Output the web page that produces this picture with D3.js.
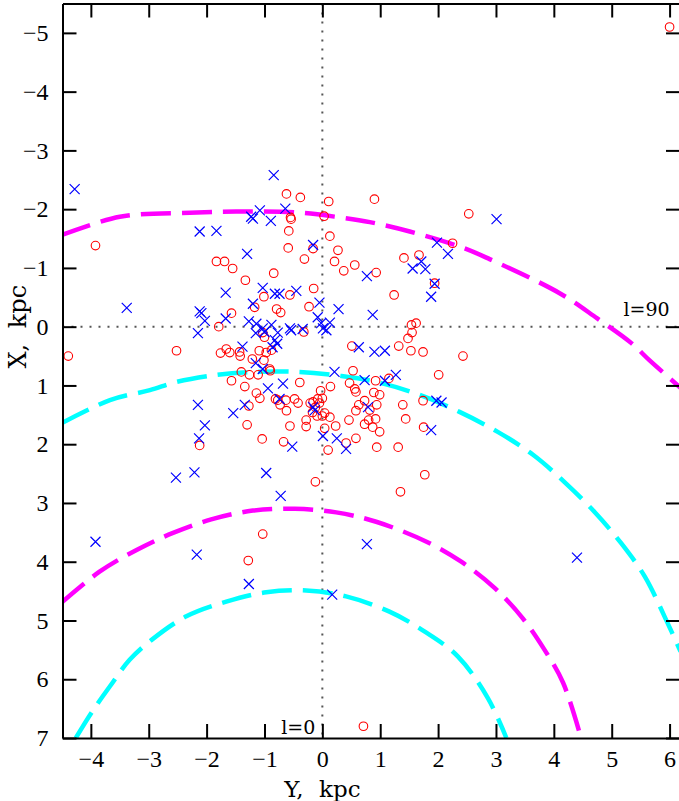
<!DOCTYPE html>
<html>
<head>
<meta charset="utf-8">
<script src="https://cdn.jsdelivr.net/npm/d3@7"></script>
<style>
  body { margin: 0; background: #fff; }
</style>
</head>
<body>
<svg id="chart" width="679" height="801"></svg>
<script>
// axis ticks (Y and X in kpc)
const yTicksBottom = d3.range(-4, 7);
const xTicksLeft = d3.range(-5, 8);

// red circles [Y, X]
const circles = [
  [-4.39, 0.50], [-3.92, -1.38], [6.00, -5.10], [-0.62, -2.26], [-0.38, -2.20], [0.11, -2.13],
  [-0.55, -1.86], [-0.54, -1.83], [0.03, -1.88], [-0.58, -1.63], [0.13, -1.54], [-0.59, -1.34],
  [-0.16, -1.33], [-0.31, -1.15], [0.27, -1.30], [0.21, -1.11], [0.37, -0.95], [-1.83, -1.11],
  [-1.69, -1.11], [-1.55, -0.99], [-0.84, -0.91], [-1.33, -0.79], [-0.15, -0.65], [-0.56, -0.54],
  [-1.01, -0.51], [-0.23, -0.34], [-1.17, -0.33], [-0.79, -0.30], [-0.72, -0.24], [-1.57, -0.23],
  [-1.79, 0.00], [-0.32, 0.09], [0.51, 0.33], [-2.52, 0.41], [-1.76, 0.45], [-1.66, 0.38],
  [-1.60, 0.44], [-1.43, 0.43], [-1.42, 0.50], [-1.21, 0.55], [-1.09, 0.41], [-0.97, 0.44],
  [-0.88, 0.40], [-1.03, 0.10], [-1.00, 0.18], [-1.01, 0.57], [0.90, -2.17], [2.53, -1.92],
  [0.56, -1.05], [0.93, -0.92], [1.41, -1.17], [1.67, -1.22], [2.25, -1.42], [1.94, -0.74],
  [1.24, -0.54], [1.54, -0.03], [1.62, -0.06], [1.55, 0.10], [1.48, 0.20], [1.32, 0.33],
  [1.53, 0.41], [1.74, 0.43], [2.43, 0.50], [-0.91, 0.72], [-0.90, 0.75], [-1.40, 0.77],
  [-1.26, 0.82], [-1.11, 0.82], [-1.57, 0.92], [-1.34, 1.02], [-0.39, 0.95], [0.14, 1.02],
  [-1.14, 1.13], [-1.08, 1.22], [-0.81, 1.23], [-0.77, 1.25], [-0.73, 1.33], [-0.63, 1.25],
  [-0.62, 1.43], [-0.48, 1.23], [-0.42, 1.30], [-1.27, 1.35], [-0.21, 1.30], [-0.16, 1.28],
  [-0.12, 1.37], [-0.08, 1.23], [-0.03, 1.09], [-0.17, 1.46], [-0.09, 1.52], [0.00, 1.52],
  [0.04, 1.47], [0.13, 1.54], [-0.28, 1.59], [-0.28, 1.70], [0.04, 1.73], [0.23, 1.69],
  [0.46, 1.59], [-0.56, 1.69], [-1.30, 1.67], [-1.04, 1.91], [-0.67, 1.96], [-2.12, 2.02],
  [0.10, 2.10], [0.41, 1.98], [-0.12, 2.64], [0.53, 0.75], [0.47, 0.96], [0.56, 1.06],
  [0.58, 1.11], [0.92, 0.92], [1.15, 0.88], [0.89, 1.12], [0.99, 1.16], [0.63, 1.33],
  [0.73, 1.26], [0.82, 1.42], [0.58, 1.43], [0.94, 1.33], [0.73, 1.66], [0.80, 1.59],
  [0.92, 1.57], [0.87, 1.71], [0.99, 1.79], [0.58, 1.90], [0.94, 2.05], [1.31, 2.05],
  [1.39, 1.33], [1.44, 1.57], [1.74, 1.26], [1.75, 1.71], [2.01, 0.82], [1.77, 2.52],
  [1.35, 2.81], [-1.03, 3.53], [-1.28, 3.98], [0.71, 6.80], [0.00, 1.22], [-0.05, 1.30]
];

// blue crosses [Y, X]
const crosses = [
  [-4.28, -2.34], [-3.38, -0.32], [-3.92, 3.66], [-2.53, 2.57], [-2.21, 2.48], [-2.17, 3.88],
  [-1.27, 4.38], [-0.72, 2.88], [0.17, 4.56], [0.77, 3.70], [4.40, 3.93], [1.97, 1.26],
  [2.06, 1.29], [1.88, 1.76], [3.01, -1.83], [-0.84, -2.58], [-2.12, -1.62], [-1.83, -1.63],
  [-1.23, -1.87], [-1.20, -1.84], [-1.08, -1.98], [-0.64, -2.01], [-0.89, -1.80], [-1.30, -1.24],
  [-0.16, -1.39], [-1.67, -0.58], [-1.03, -0.66], [-0.82, -0.56], [-0.74, -0.56], [-0.45, -0.61],
  [-1.20, -0.39], [-2.12, -0.26], [-2.09, -0.23], [-2.03, -0.10], [-1.67, -0.14], [-2.15, 0.11],
  [-1.27, -0.09], [-1.14, -0.05], [-1.03, 0.03], [-1.00, 0.09], [-0.88, -0.03], [-0.77, 0.10],
  [-1.15, 0.11], [-0.56, 0.03], [-0.54, 0.06], [-0.34, 0.04], [-0.05, -0.41], [0.28, -0.30],
  [-0.08, -0.16], [-0.02, -0.06], [0.01, 0.03], [0.13, -0.07], [0.07, 0.06], [-1.38, 0.34],
  [-0.82, 0.23], [-0.78, 0.29], [-0.86, 0.35], [1.98, -1.43], [2.17, -1.24], [1.71, -1.11],
  [1.56, -0.99], [1.78, -0.98], [1.94, -0.73], [1.88, -0.51], [0.77, -0.86], [0.87, -0.20],
  [0.63, 0.35], [0.90, 0.43], [1.08, 0.41], [-1.15, 0.62], [-1.03, 0.72], [0.21, 0.77],
  [-0.68, 0.97], [-0.94, 1.05], [-2.15, 1.33], [-1.54, 1.47], [-1.34, 1.33], [-0.74, 1.23],
  [-0.16, 1.37], [-0.13, 1.42], [-2.03, 1.68], [-2.13, 1.90], [-0.52, 2.04], [0.01, 1.86],
  [0.25, 1.90], [0.41, 2.08], [-0.97, 2.49], [0.73, 0.91], [1.08, 0.92], [1.27, 0.82],
  [0.79, 1.37]
];

// dashed arcs [Y, X]
const magentaOuter = [
  [-4.50, -1.56], [-3.50, -1.87], [-2.29, -1.94], [-1.31, -1.96], [-0.39, -1.94], [0.30, -1.86],
  [0.82, -1.78], [1.51, -1.62], [2.41, -1.35], [2.89, -1.15], [4.10, -0.57], [4.75, -0.14],
  [5.34, 0.28], [5.65, 0.57], [6.19, 1.04]
];
const cyanOuter = [
  [-4.50, 1.64], [-3.67, 1.25], [-2.98, 1.08], [-2.52, 0.94], [-1.83, 0.82], [-1.20, 0.77],
  [-0.39, 0.77], [0.33, 0.84], [0.93, 0.94], [1.68, 1.16], [2.37, 1.45], [3.03, 1.79],
  [3.64, 2.18], [4.18, 2.64], [4.70, 3.15], [5.16, 3.68], [5.57, 4.25], [5.94, 4.99], [6.19, 5.53]
];
const magentaInner = [
  [-4.51, 4.70], [-3.85, 4.17], [-3.21, 3.80], [-2.58, 3.51], [-1.92, 3.28], [-1.20, 3.13],
  [-0.48, 3.10], [0.24, 3.16], [0.93, 3.32], [1.80, 3.66], [2.40, 4.00], [2.98, 4.45],
  [3.46, 4.96], [3.84, 5.50], [4.16, 6.06], [4.47, 7.00]
];
const cyanInner = [
  [-4.26, 7.00], [-3.99, 6.57], [-3.67, 6.12], [-3.33, 5.67], [-2.95, 5.33], [-2.35, 4.93],
  [-1.66, 4.68], [-0.97, 4.52], [-0.28, 4.49], [0.41, 4.59], [1.16, 4.85], [1.77, 5.19],
  [2.34, 5.61], [2.86, 6.32], [3.18, 7.00]
];

const notes = [
  { text: "l=0", pos: [-0.12, 6.93] },
  { text: "l=90", pos: [6.0, -0.18] }
];

const plotLeft = 62.5, plotRight = 680, plotTop = 3.5, plotBottom = 738;
const serif = "'Liberation Serif', 'DejaVu Serif', serif";
const wideSerif = "'DejaVu Serif', serif";

const svg = d3.select("#chart");

const x = d3.scaleLinear().domain([-4.49, 6.18]).range([plotLeft, plotRight]);
const y = d3.scaleLinear().domain([-5.5, 7]).range([plotTop, plotBottom]);

svg.append("defs").append("clipPath").attr("id", "clip")
    .append("rect")
    .attr("x", plotLeft).attr("y", plotTop)
    .attr("width", plotRight - plotLeft).attr("height", plotBottom - plotTop);

const plot = svg.append("g").attr("clip-path", "url(#clip)");

// dotted zero lines
plot.append("line")
    .attr("x1", x(0)).attr("x2", x(0))
    .attr("y1", plotTop).attr("y2", plotBottom)
    .attr("stroke", "#555").attr("stroke-width", 2)
    .attr("stroke-dasharray", "2,7");
plot.append("line")
    .attr("x1", plotLeft).attr("x2", plotRight)
    .attr("y1", y(0)).attr("y2", y(0))
    .attr("stroke", "#555").attr("stroke-width", 2)
    .attr("stroke-dasharray", "2,7");

const arc = d3.line()
    .x(d => x(d[0]))
    .y(d => y(d[1]))
    .curve(d3.curveCatmullRom.alpha(0.5));

[
  { pts: magentaOuter, color: "#ff00ff" },
  { pts: cyanOuter, color: "#00ffff" },
  { pts: magentaInner, color: "#ff00ff" },
  { pts: cyanInner, color: "#00ffff" }
].forEach(a => {
    plot.append("path")
        .datum(a.pts)
        .attr("d", arc)
        .attr("fill", "none")
        .attr("stroke", a.color)
        .attr("stroke-width", 4.5)
        .attr("stroke-dasharray", "30,11");
});

plot.selectAll(".circ")
    .data(circles)
    .enter()
    .append("circle")
    .attr("class", "circ")
    .attr("cx", d => x(d[0]))
    .attr("cy", d => y(d[1]))
    .attr("r", 4.3)
    .attr("fill", "none")
    .attr("stroke", "#ff0000")
    .attr("stroke-width", 1.1);

plot.selectAll(".cross")
    .data(crosses)
    .enter()
    .append("path")
    .attr("class", "cross")
    .attr("d", d => {
        const cx = x(d[0]), cy = y(d[1]), s = 5;
        return `M${cx - s},${cy - s}L${cx + s},${cy + s}M${cx - s},${cy + s}L${cx + s},${cy - s}`;
    })
    .attr("stroke", "#0000ff")
    .attr("stroke-width", 1.2)
    .attr("fill", "none");

// frame and ticks
const fmt = d3.format("d");
svg.append("g")
    .attr("transform", `translate(0,${plotBottom})`)
    .call(d3.axisBottom(x).tickValues(yTicksBottom).tickSize(-14).tickSizeOuter(0).tickPadding(12).tickFormat(fmt));
svg.append("g")
    .attr("transform", `translate(0,${plotTop})`)
    .call(d3.axisTop(x).tickValues(yTicksBottom).tickSize(-14).tickSizeOuter(0).tickFormat(""));
svg.append("g")
    .attr("transform", `translate(${plotLeft},0)`)
    .call(d3.axisLeft(y).tickValues(xTicksLeft).tickSize(-14).tickSizeOuter(0).tickPadding(14).tickFormat(fmt));
svg.append("g")
    .attr("transform", `translate(${plotRight},0)`)
    .call(d3.axisRight(y).tickValues(xTicksLeft).tickSize(-14).tickSizeOuter(0).tickFormat(""));

svg.selectAll(".domain, .tick line").attr("stroke", "#000").attr("stroke-width", 2);
svg.selectAll(".tick text")
    .style("font-family", serif)
    .style("font-size", "24px")
    .attr("fill", "#000");

// axis titles
svg.append("text")
    .attr("x", x(0))
    .attr("y", 797)
    .attr("text-anchor", "middle")
    .style("font-family", wideSerif)
    .style("font-size", "23px")
    .style("word-spacing", "8px")
    .text("Y, kpc");

svg.append("text")
    .attr("transform", `translate(26,${y(0)}) rotate(-90)`)
    .attr("text-anchor", "middle")
    .style("font-family", wideSerif)
    .style("font-size", "24px")
    .style("word-spacing", "8px")
    .text("X, kpc");

notes.forEach(n => {
    svg.append("text")
        .attr("x", x(n.pos[0]))
        .attr("y", y(n.pos[1]))
        .attr("text-anchor", "end")
        .style("font-family", wideSerif)
        .style("font-size", "19px")
        .text(n.text);
});
</script>
</body>
</html>
